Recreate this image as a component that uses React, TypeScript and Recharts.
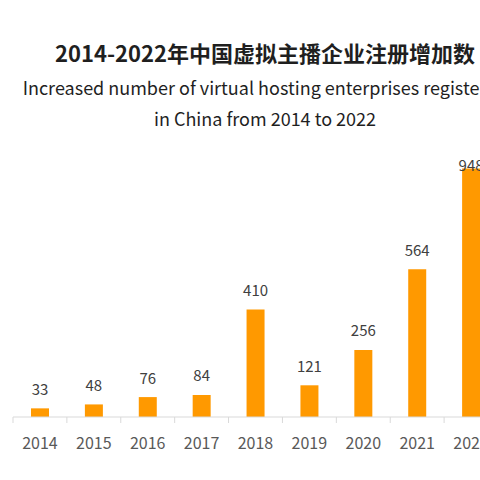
import React from "react";
import { BarChart, Bar, XAxis, YAxis, LabelList } from "recharts";

const years = ["2014", "2015", "2016", "2017", "2018", "2019", "2020", "2021", "2022"];
const counts = [33, 48, 76, 84, 410, 121, 256, 564, 948];

const data = years.map((year, i) => ({ year, count: counts[i] }));

const CHART_W = 530;
const CHART_H = 480;
const MARGIN = { top: 155, right: 32, bottom: 23, left: 13 };
const band = (CHART_W - MARGIN.left - MARGIN.right) / years.length;

const FONT = '"Noto Sans CJK SC", "Noto Sans", sans-serif';

// Excel-like axis: tick marks sit on the category boundaries
const YearTick = (props: any) => {
  const { x, y, payload } = props;
  const left = x - band / 2;
  return (
    <g>
      <line x1={left} y1={y - 8} x2={left} y2={y - 2} stroke="#d9d9d9" />
      <text
        x={x}
        y={y + 17}
        textAnchor="middle"
        dominantBaseline="central"
        fontSize={16}
        fill="#595959"
        fontFamily={FONT}
      >
        {payload.value}
      </text>
    </g>
  );
};

const ValueLabel = (props: any) => {
  const { x, y, width, value } = props;
  return (
    <text
      x={x + width / 2}
      y={Math.max(y - 20, 164)}
      textAnchor="middle"
      dominantBaseline="central"
      fontSize={15}
      fill="#404040"
      fontFamily={FONT}
    >
      {value}
    </text>
  );
};

export default function App() {
  return (
    <div
      style={{
        position: "absolute",
        top: 0,
        left: 0,
        width: 480,
        height: 480,
        overflow: "hidden",
        background: "#fff",
        fontFamily: FONT,
      }}
    >
      <div style={{ position: "absolute", top: 0, left: 0, width: CHART_W, textAlign: "center", color: "#1f1f1f" }}>
        <div style={{ position: "absolute", top: 36, width: CHART_W, fontSize: 22, fontWeight: 700, lineHeight: "32px" }}>
          2014-2022年中国虚拟主播企业注册增加数
        </div>
        <div style={{ position: "absolute", top: 74, width: CHART_W, fontSize: 18, lineHeight: "26px", whiteSpace: "nowrap" }}>
          Increased number of virtual hosting enterprises registered
        </div>
        <div style={{ position: "absolute", top: 105, width: CHART_W, fontSize: 18, lineHeight: "26px" }}>
          in China from 2014 to 2022
        </div>
      </div>
      <div style={{ position: "absolute", top: 0, left: 0 }}>
        <BarChart width={CHART_W} height={CHART_H} data={data} margin={MARGIN}>
          <XAxis
            dataKey="year"
            axisLine={{ stroke: "#d9d9d9" }}
            tickLine={false}
            tick={<YearTick />}
            height={40}
            interval={0}
          />
          <YAxis hide domain={[0, 1000]} />
          <Bar dataKey="count" fill="#FF9900" barSize={18} isAnimationActive={false}>
            <LabelList dataKey="count" content={<ValueLabel />} />
          </Bar>
        </BarChart>
      </div>
    </div>
  );
}
